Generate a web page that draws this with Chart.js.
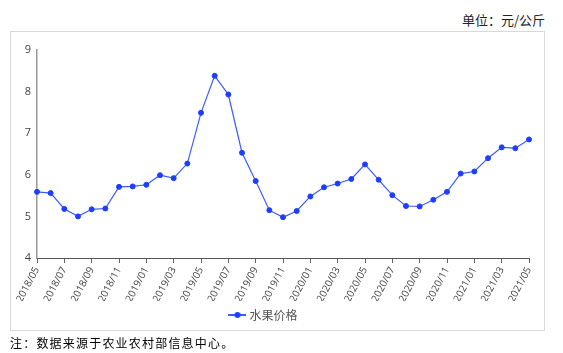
<!DOCTYPE html>
<html>
<head>
<meta charset="utf-8">
<script src="https://cdn.jsdelivr.net/npm/chart.js@4/dist/chart.umd.min.js"></script>
<style>
  html, body { margin: 0; padding: 0; background: #fff; }
  body { width: 563px; height: 353px; position: relative; overflow: hidden; }
  #box { position: absolute; left: 10px; top: 31px; width: 533px; height: 298px; border: 1px solid #d9d9d9; box-sizing: content-box; }
  #wrap { position: absolute; left: 0; top: 0; width: 563px; height: 353px; }
  #unit { position: absolute; right: 18px; top: 10px; font: 13px "Noto Sans CJK SC", sans-serif; color: #222; white-space: nowrap; }
  #note { position: absolute; left: 10px; top: 334px; font: 12px "Noto Sans CJK SC", sans-serif; color: #000; letter-spacing: 1.2px; white-space: nowrap; }
</style>
</head>
<body>
<div id="box"></div>
<div id="unit">单位：元/公斤</div>
<div id="wrap"><canvas id="c" width="563" height="353"></canvas></div>
<div id="note">注：数据来源于农业农村部信息中心。</div>
<script>
const categories = [
  "2018/05","2018/06","2018/07","2018/08","2018/09","2018/10","2018/11","2018/12",
  "2019/01","2019/02","2019/03","2019/04","2019/05","2019/06","2019/07","2019/08",
  "2019/09","2019/10","2019/11","2019/12","2020/01","2020/02","2020/03","2020/04",
  "2020/05","2020/06","2020/07","2020/08","2020/09","2020/10","2020/11","2020/12",
  "2021/01","2021/02","2021/03","2021/04","2021/05"
];
const fruitPrice = [
  5.59, 5.56, 5.18, 5.00, 5.17, 5.19, 5.71, 5.72,
  5.76, 5.99, 5.92, 6.27, 7.49, 8.38, 7.93, 6.53,
  5.85, 5.15, 4.98, 5.13, 5.48, 5.70, 5.79, 5.90,
  6.25, 5.88, 5.51, 5.25, 5.24, 5.40, 5.59, 6.03,
  6.08, 6.40, 6.66, 6.64, 6.85
];
const yTicks = [4, 5, 6, 7, 8, 9];
const seriesName = "水果价格";

const xTickFont = { family: "'Open Sans', 'Noto Sans', sans-serif", size: 10 };
const yTickFont = { family: "'Open Sans', 'Noto Sans', sans-serif", size: 11 };

// legend marker: short line with a dot in the middle
const marker = document.createElement('canvas');
marker.width = 18; marker.height = 8;
(function () {
  const g = marker.getContext('2d');
  g.strokeStyle = '#3a5bff';
  g.lineWidth = 2;
  g.beginPath(); g.moveTo(0, 4); g.lineTo(18, 4); g.stroke();
  g.fillStyle = '#1f3dff';
  g.beginPath(); g.arc(9, 4, 3, 0, Math.PI * 2); g.fill();
})();

new Chart(document.getElementById('c'), {
  type: 'line',
  data: {
    labels: categories,
    datasets: [{
      label: seriesName,
      data: fruitPrice,
      borderColor: '#3a5bff',
      backgroundColor: '#1f3dff',
      pointBackgroundColor: '#1f3dff',
      pointBorderColor: '#1f3dff',
      borderWidth: 1.2,
      pointRadius: 2.5,
      pointBorderWidth: 1,
      pointHoverRadius: 2.5,
      tension: 0
    }]
  },
  options: {
    responsive: false,
    animation: false,
    events: [],
    layout: { padding: { left: 0, right: 34, top: 50, bottom: 22 } },
    plugins: {
      tooltip: { enabled: false },
      legend: {
        position: 'bottom',
        labels: {
          usePointStyle: true,
          boxWidth: 18,
          boxHeight: 8,
          padding: 8,
          color: '#555',
          font: { family: "'Noto Sans CJK SC', sans-serif", size: 12 },
          generateLabels(chart) {
            return [{
              text: seriesName,
              fillStyle: '#1f3dff',
              strokeStyle: '#1f3dff',
              lineWidth: 0,
              pointStyle: marker,
              fontColor: '#555',
              datasetIndex: 0
            }];
          }
        }
      }
    },
    scales: {
      x: {
        offset: false,
        afterFit(scale) { scale.height = 43; },
        grid: { display: true, drawOnChartArea: false, drawTicks: true, tickLength: 5, color: '#666', tickColor: '#666' },
        border: { display: true, color: '#555', width: 1 },
        ticks: {
          autoSkip: false,
          maxRotation: 62,
          minRotation: 62,
          padding: 2,
          color: '#444',
          font: xTickFont,
          callback(v, i) { return i % 2 === 0 ? categories[i] : null; }
        }
      },
      y: {
        min: 4,
        max: 9,
        afterFit(scale) { scale.width = 37; },
        afterBuildTicks(scale) { scale.ticks = yTicks.map(v => ({ value: v })); },
        grid: { display: false, drawTicks: false },
        border: { display: true, color: '#999', width: 1.5 },
        ticks: { padding: 6, color: '#444', font: yTickFont }
      }
    }
  }
});
</script>
</body>
</html>
